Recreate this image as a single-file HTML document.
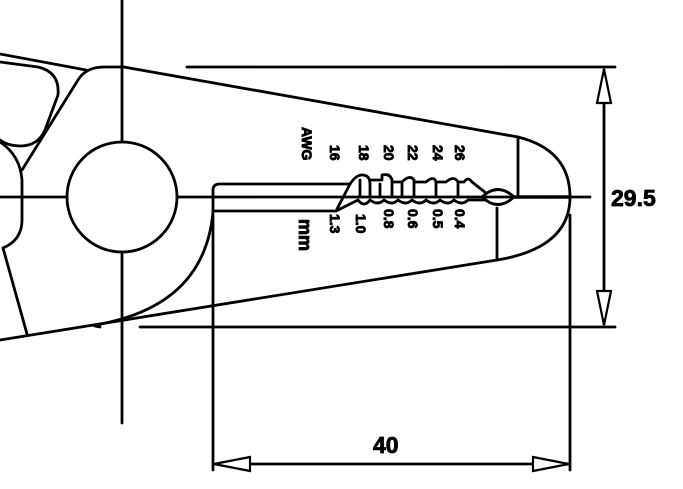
<!DOCTYPE html>
<html><head><style>html,body{margin:0;padding:0;background:#fff}svg{display:block}</style></head>
<body>
<svg width="683" height="489" viewBox="0 0 683 489" xmlns="http://www.w3.org/2000/svg">
<g fill="none" stroke="#000" stroke-width="2.8" stroke-linecap="round" stroke-linejoin="round">
<line x1="122" y1="0" x2="122" y2="142"/>
<line x1="122" y1="252" x2="122" y2="423"/>
<line x1="0" y1="197" x2="67" y2="197"/>
<line x1="177" y1="197" x2="590" y2="197"/>
<circle cx="122" cy="197" r="55"/>
<line x1="0" y1="54" x2="86" y2="70"/>
<path d="M0,62 L38,67 Q60,72 58,95 L45,130 Q38,146 20,146 Q8,146 0,140"/>
<path d="M104,67 Q86,67 78,80 L22,170"/>
<path d="M0,142 Q20,155 22,180 L22,220 Q22,240 3,248"/>
<line x1="3" y1="248" x2="27" y2="334"/>
<line x1="0" y1="340" x2="497" y2="260"/>
<path d="M104,67 L124,67 L518,137"/>
<path d="M518,137 Q570,150 570,197 Q570,248 497,260"/>
<line x1="518" y1="137" x2="518" y2="197"/>
<line x1="497" y1="208" x2="497" y2="260"/>
<path d="M213,212 Q205,300 110,322 Q92,326 95,326 L100,327"/>
<line x1="140" y1="327" x2="615" y2="327"/>
<path d="M213,212 L213,190 Q213,184 220,184 L350,184"/>
<line x1="213" y1="211" x2="336" y2="211"/>
<path d="M336,211 L350,184"/>
<path d="M350,184 Q356,175 362,175 Q370,175 370,184 L370,197 M370,180 L382,180 L382,175 Q390,173 392,180 L392,197 M392,182 L402,182 Q410,174 414,180 L414,197 M414,182 L426,182 Q434,175 436,182 L436,197 M436,182 L446,182 Q454,175 458,182 L458,197 M458,182 L464,182 Q468,176 472,182 L486,193"/>
<path d="M360,180 L360,197 M380,184 L380,197 M402,184 L402,197"/>
<path d="M336,211 L358,200 Q364,208 370,200 Q378,206 384,200 Q392,206 398,200 Q406,206 412,200 Q420,206 426,200 Q434,206 440,200 Q448,206 454,200 Q462,206 468,200 L486,200"/>
<path d="M482,197 Q498,182 514,197 Q498,212 482,197 Z"/>
<line x1="514" y1="197" x2="568" y2="197" stroke-dasharray="2 1.5" stroke-width="3.5"/>
<line x1="187" y1="67" x2="615" y2="67"/>
<line x1="604" y1="70" x2="604" y2="324"/>
<line x1="213" y1="215" x2="213" y2="470"/>
<line x1="570" y1="215" x2="570" y2="470"/>
<line x1="216" y1="464" x2="567" y2="464"/>
</g>
<g fill="#fff" stroke="#000" stroke-width="2.2">
<path d="M604,69 L597,103 L611,103 Z"/>
<path d="M604,325 L597,291 L611,291 Z"/>
<path d="M214,464 L250,457 L250,471 Z"/>
<path d="M569,464 L533,457 L533,471 Z"/>
</g>
<g font-family="Liberation Sans, sans-serif" font-weight="bold" fill="#000" stroke="#000">
<text x="611" y="206" font-size="23" stroke-width="0.8">29.5</text>
<text x="373" y="453" font-size="23" stroke-width="0.8">40</text>
<g font-size="14" stroke-width="0.9">
<text transform="translate(302,127) rotate(90)">AWG</text>
<text transform="translate(330,145) rotate(90)">16</text>
<text transform="translate(359,145) rotate(90)">18</text>
<text transform="translate(384,145) rotate(90)">20</text>
<text transform="translate(408,145) rotate(90)">22</text>
<text transform="translate(433,145) rotate(90)">24</text>
<text transform="translate(455,145) rotate(90)">26</text>
<text transform="translate(330,214) rotate(90)">1.3</text>
<text transform="translate(356,214) rotate(90)">1.0</text>
<text transform="translate(384,209) rotate(90)">0.8</text>
<text transform="translate(408,209) rotate(90)">0.6</text>
<text transform="translate(433,209) rotate(90)">0.5</text>
<text transform="translate(455,209) rotate(90)">0.4</text>
<text transform="translate(299,219) rotate(90)" font-size="18">mm</text>
</g>
</g>
</svg>
</body></html>
